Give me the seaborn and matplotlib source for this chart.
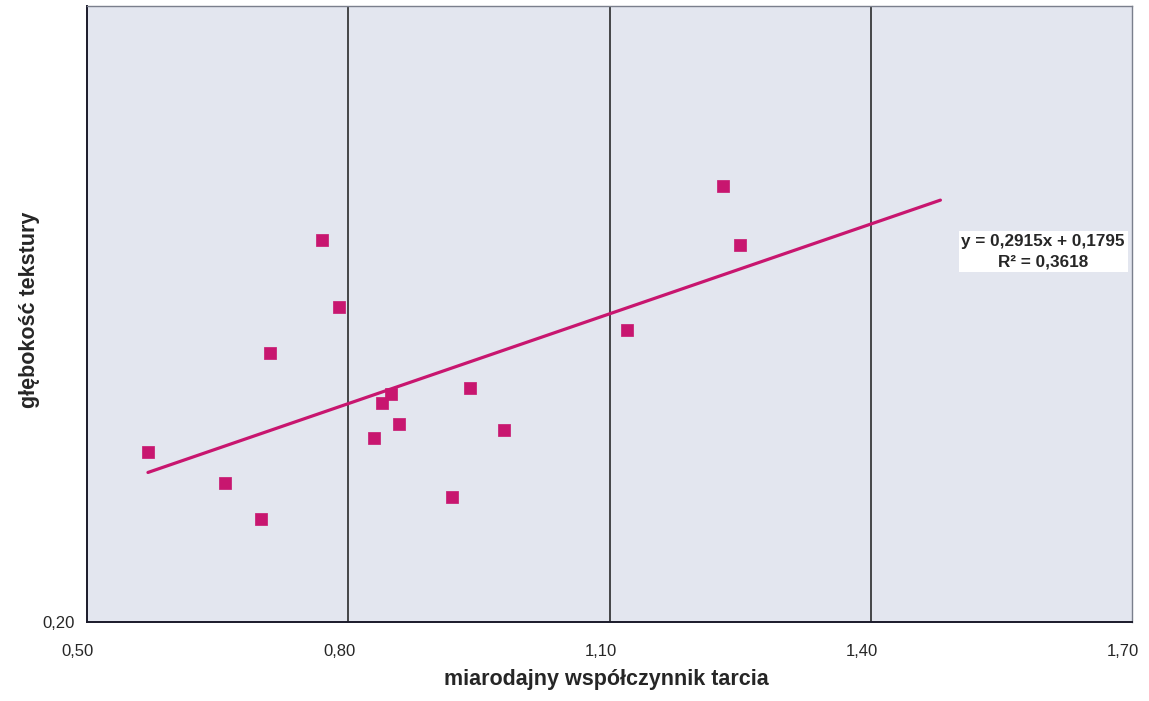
import matplotlib
matplotlib.use("Agg")
import matplotlib.pyplot as plt
import matplotlib.transforms as mtransforms
import seaborn as sns
import numpy as np
import pandas as pd

# data
friction = [0.570, 0.658, 0.700, 0.710, 0.770, 0.789, 0.830, 0.839,
            0.849, 0.858, 0.919, 0.940, 0.979, 1.120, 1.230, 1.250]
texture = [0.366, 0.335, 0.300, 0.462, 0.572, 0.507, 0.379, 0.413,
           0.422, 0.393, 0.322, 0.428, 0.387, 0.484, 0.625, 0.567]
slope = 0.2915
intercept = 0.1795
r2 = 0.3618
trend_end = 1.48
x_ticks = [0.50, 0.80, 1.10, 1.40, 1.70]
x_tick_labels = ["0,50", "0,80", "1,10", "1,40", "1,70"]
y_ticks = [0.20]
y_tick_labels = ["0,20"]

sns.set_style("white")
plt.rcParams['font.family'] = ['Liberation Sans', 'DejaVu Sans']

fig = plt.figure(figsize=(11.49, 7.01), dpi=100)
ax = fig.add_axes([87/1149, (701-622)/701, (1132-87)/1149, (622-6)/701])
ax.set_facecolor("#e3e6ef")

color = "#c8166f"
df = pd.DataFrame({"x": friction, "y": texture})
tx = np.array([min(friction), trend_end])
trend = pd.DataFrame({"x": tx, "y": slope * tx + intercept})
sns.lineplot(data=trend, x="x", y="y", ax=ax, color=color, lw=2.3, zorder=3)
sns.scatterplot(data=df, x="x", y="y", ax=ax, marker="s", s=70, color=color,
                edgecolor=color, linewidth=0.5, zorder=4)

ax.set_xlim(0.50, 1.70)
ax.set_ylim(0.20, 0.80)
ax.set_xticks(x_ticks)
ax.set_xticklabels(x_tick_labels, fontsize=12)
ax.set_yticks(y_ticks)
ax.set_yticklabels(y_tick_labels, fontsize=12)
ax.tick_params(axis="x", direction="out", length=5, width=1, color="#222222", pad=11)
ax.tick_params(axis="y", direction="out", length=5, width=1, color="#222222", pad=4)
shift = mtransforms.ScaledTranslation(-9 / 100, 0, fig.dpi_scale_trans)
for lbl in ax.get_xticklabels():
    lbl.set_transform(lbl.get_transform() + shift)
for xv in x_ticks[1:-1]:
    ax.axvline(xv, color="#1a1a1a", lw=1.1, zorder=2)

for s in ["left", "bottom"]:
    ax.spines[s].set_color("#1a1a2a")
    ax.spines[s].set_linewidth(1.4)
for s in ["top", "right"]:
    ax.spines[s].set_color("#7a7f8c")
    ax.spines[s].set_linewidth(1.0)

ax.set_xlabel("miarodajny współczynnik tarcia", fontsize=15.5, fontweight="bold")
ax.xaxis.set_label_coords(0.497, -0.077)
ax.set_ylabel("głębokość tekstury", fontsize=15.5, fontweight="bold")
ax.yaxis.set_label_coords(-0.045, 0.506)

ax.text(1.598, 0.561, f"y = {slope:.4f}x + {intercept:.4f}".replace(".", ",") + "\n" +
        f"R² = {r2:.4f}".replace(".", ","),
        fontsize=12.3, fontweight="bold", ha="center", va="center", linespacing=1.45,
        bbox=dict(facecolor="white", edgecolor="none", pad=2), zorder=5)

fig.savefig("out.png", dpi=100)
